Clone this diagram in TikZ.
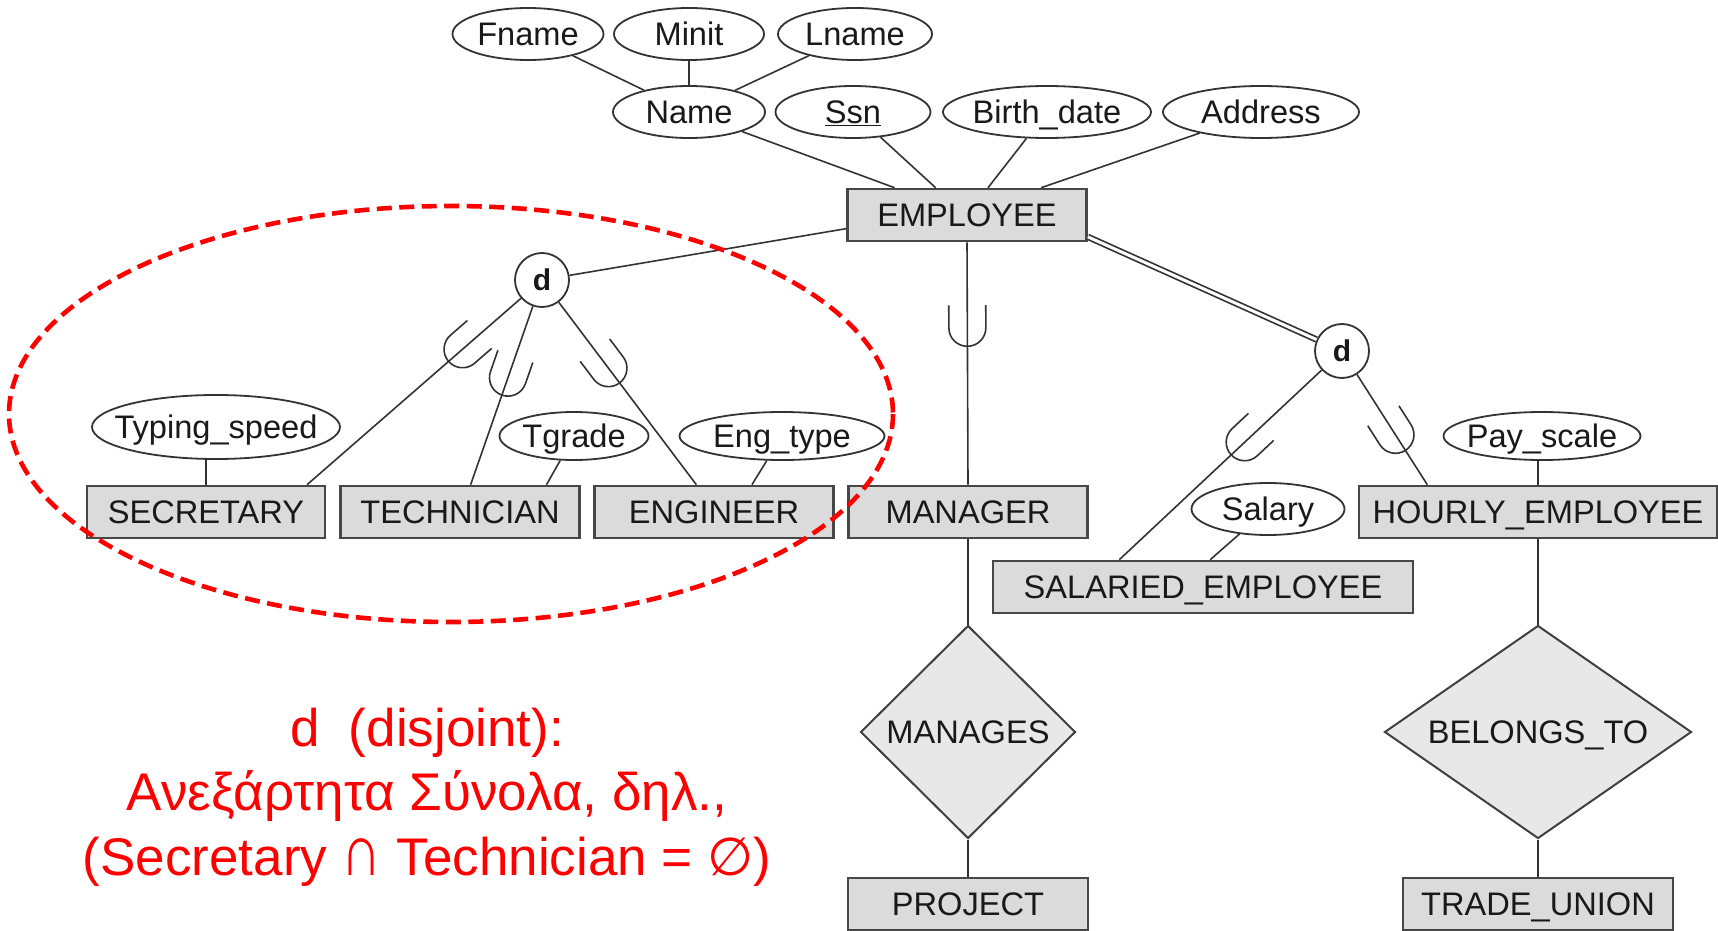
\documentclass[tikz,border=0pt]{standalone}
\usepackage{fontspec}
\usepackage{graphicx}
\setmainfont{Liberation Sans}
\newfontfamily\symfont{DejaVu Sans}
\usetikzlibrary{shapes.geometric,calc,decorations.markings}
\newcommand{\zb}[1]{\makebox[0pt][c]{#1}}
\begin{document}
\begin{tikzpicture}[x=1pt,y=-1pt,
  every node/.style={font=\fontsize{32.6}{36}\selectfont, text=black!90, text height=23pt, text depth=0pt},
  attr/.style={ellipse, draw=black!80, line width=1.8pt, fill=white, inner sep=0pt, minimum width=#1, minimum height=52pt},
  ent/.style={rectangle, draw=black!72, line width=2.6pt, fill=black!14, inner sep=0pt, minimum width=#1, minimum height=52pt},
  rel/.style={diamond, draw=black!75, line width=2pt, fill=black!9, inner sep=0pt},
  spec/.style={circle, draw=black!80, line width=1.8pt, fill=white, minimum size=54pt, inner sep=0pt, text height=21pt, font=\fontsize{30}{30}\selectfont\bfseries},
  conn/.style={draw=black!80, line width=1.6pt},
  subU/.style={postaction={decorate}, decoration={markings, mark=at position #1 with {\draw[line width=1.6pt, black!80] (-41,18.5) -- (-18.5,18.5) arc[start angle=90,end angle=-90,radius=18.5] -- (-41,-18.5);}}},
]
\useasboundingbox (0,0) rectangle (1718,931);

% attributes of EMPLOYEE
\node[attr=151pt] (fname) at (528,34) {\zb{Fname}};
\node[attr=150pt] (minit) at (689,34) {\zb{Minit}};
\node[attr=154pt] (lname) at (855,34) {\zb{Lname}};
\node[attr=152pt] (name) at (689,112) {\zb{Name}};
\node[attr=155pt] (ssn) at (853,112) {\zb{\underline{Ssn}}};
\node[attr=208pt] (bdate) at (1047,112) {\zb{Birth\_date}};
\node[attr=196pt] (addr) at (1261,112) {\zb{Address}};

% entities
\node[ent=239pt] (emp) at (967,215) {EMPLOYEE};
\node[spec] (d1) at (542,280) {d};
\node[spec] (d2) at (1342,351) {d};
\node[ent=238pt] (sec) at (206,512) {SECRETARY};
\node[ent=239pt] (tech) at (460,512) {TECHNICIAN};
\node[ent=239pt] (eng) at (714,512) {ENGINEER};
\node[ent=239pt] (mgr) at (968,512) {MANAGER};
\node[ent=358pt] (hourly) at (1538,512) {HOURLY\_EMPLOYEE};
\node[ent=420pt] (sal) at (1203,587) {SALARIED\_EMPLOYEE};

% subclass attributes
\node[attr=248pt, minimum height=64pt] (typing) at (216,427) {\zb{Typing\_speed}};
\node[attr=149pt, minimum height=48pt] (tgrade) at (574,436) {\zb{Tgrade}};
\node[attr=205pt, minimum height=48pt] (engtype) at (782,436) {\zb{Eng\_type}};
\node[attr=197pt, minimum height=48pt] (payscale) at (1542,436) {\zb{Pay\_scale}};
\node[attr=153pt] (salary) at (1268,509) {\zb{Salary}};

% relationships
\node[rel, minimum width=215pt, minimum height=213pt] (manages) at (968,732) {MANAGES};
\node[rel, minimum width=307pt, minimum height=213pt, aspect=1.44] (belongs) at (1538,732) {BELONGS\_TO};
\node[ent=240pt] (project) at (968,904) {PROJECT};
\node[ent=270pt] (trade) at (1538,904) {TRADE\_UNION};

% connectors: composite attribute
\draw[conn] (fname) -- (name);
\draw[conn] (minit) -- (name);
\draw[conn] (lname) -- (name);
% attributes to EMPLOYEE
\draw[conn] (name) -- ($(emp.north west)!0.2!(emp.north east)$);
\draw[conn] (ssn) -- ($(emp.north west)!0.37!(emp.north east)$);
\draw[conn] (bdate) -- ($(emp.north west)!0.587!(emp.north east)$);
\draw[conn] (addr) -- ($(emp.north west)!0.807!(emp.north east)$);

% specialisations
\draw[conn] ($(emp.south west)!0.25!(emp.north west)$) -- (d1);
\draw[conn, double=white, double distance=3pt, line width=1.7pt] ($(emp.south east)!0.1!(emp.north east)$) -- (d2);
\draw[conn, subU=104pt] (emp.south) -- (mgr.north);

\draw[conn, subU=96pt] (d1) -- ($(sec.north west)!0.92!(sec.north east)$);
\draw[conn, subU=94pt] (d1) -- ($(tech.north west)!0.544!(tech.north east)$);
\draw[conn, subU=101pt] (d1) -- ($(eng.north west)!0.427!(eng.north east)$);

\draw[conn, subU=124pt] (d2) -- ($(sal.north west)!0.302!(sal.north east)$);
\draw[conn, subU=90pt] (d2) -- ($(hourly.north west)!0.193!(hourly.north east)$);

% subclass attributes
\draw[conn] (sec.north) -- (sec.north |- typing.south);
\draw[conn] (tgrade) -- ($(tech.north west)!0.858!(tech.north east)$);
\draw[conn] (engtype) -- ($(eng.north west)!0.657!(eng.north east)$);
\draw[conn] (hourly.north) -- (hourly.north |- payscale.south);
\draw[conn] (salary) -- ($(sal.north west)!0.517!(sal.north east)$);

% relationships
\draw[conn] (mgr.south) -- (manages.north);
\draw[conn] (manages.south) -- (project.north);
\draw[conn] (hourly.south) -- (belongs.north);
\draw[conn] (belongs.south) -- (trade.north);

% red annotation
\draw[red, line width=4.6pt, dash pattern=on 15pt off 7.5pt] (451,414) ellipse [x radius=442, y radius=208];
\node[text=red, font=\fontsize{53}{64.6}\selectfont, align=center, text height=, text depth=] (note) at (427,797)
  {d\ \ (disjoint):\\Ανεξάρτητα Σύνολα, δηλ.,\\(Secretary \scalebox{1.05}[1.38]{∩} Technician = {\symfont ∅})};
\end{tikzpicture}
\end{document}
